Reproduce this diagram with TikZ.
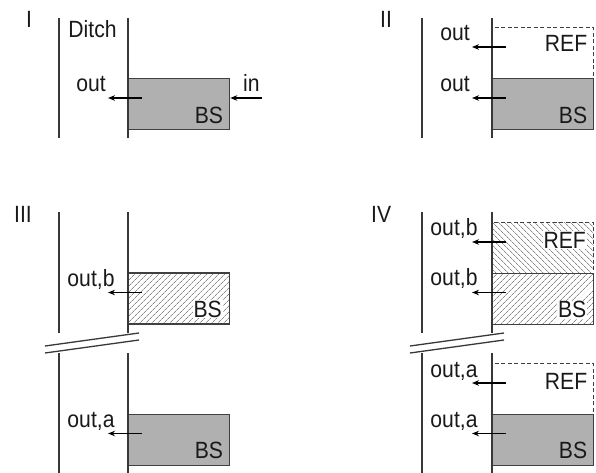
\documentclass[tikz,border=0pt]{standalone}
\usepackage{fontspec}
\setmainfont{Liberation Sans}[FakeStretch=0.9]
\usetikzlibrary{calc,arrows.meta,patterns.meta}
\definecolor{wallc}{HTML}{383838}
\definecolor{boxc}{HTML}{404040}
\definecolor{bsgray}{HTML}{B0B0B0}
\definecolor{hatchc}{HTML}{8A8A8A}
\begin{document}
\begin{tikzpicture}[x=1pt,y=-1pt,
  wall/.style={draw=wallc,line width=1.6pt},
  brk/.style={draw=wallc,line width=1.3pt},
  box/.style={rectangle,draw=boxc,line width=1.3pt,minimum width=101pt,minimum height=51pt,inner sep=0pt,anchor=north west},
  bsbox/.style={box,fill=bsgray},
  hbsbox/.style={box,fill=white,pattern={Lines[angle=45,distance=4pt,line width=0.8pt]},pattern color=hatchc},
  refbox/.style={box,dashed,line width=1.4pt,dash pattern=on 4pt off 2.5pt,fill=white},
  hrefbox/.style={refbox,pattern={Lines[angle=-45,distance=4pt,line width=0.8pt]},pattern color=hatchc},
  txt/.style={inner sep=0pt,font=\fontsize{23.5}{25}\selectfont,text=black!90},
  htxt/.style={txt,fill=white,inner sep=0.8pt},
  num/.style={inner sep=0pt,font=\fontsize{23.5}{25}\selectfont,text=black!90,anchor=base west},
  flow/.style={draw=black,line width=1.5pt,-{Stealth[length=7pt,width=5.5pt]}}
]
\useasboundingbox (0,0) rectangle (596,473);

% ---------- Panel I ----------
\node[num] (nI) at (26,28) {I};
\node[bsbox] (b1) at (128,78) {};
\node[txt,anchor=base east] (b1l) at ($(b1.south east)+(-7,-7)$) {BS};
\draw[wall] (59,18) coordinate (w1a) -- (59,138) coordinate (w1b);
\draw[wall] (128,18) coordinate (w1c) -- (128,138) coordinate (w1d);
\node[txt,anchor=base] (ditch) at (92.5,37.5) {Ditch};
\coordinate (o1s) at ($(b1.north west)+(14,20)$);
\coordinate (o1e) at ($(b1.north west)+(-20,20)$);
\draw[flow] (o1s) -- (o1e);
\node[txt,anchor=base] (o1l) at ($(b1.north west)+(-37,14)$) {out};
\coordinate (i1s) at ($(b1.north east)+(32,20)$);
\draw[flow] (i1s) -- (b1.east |- i1s);
\node[txt,anchor=base] (i1l) at ($(b1.north east)+(21,14)$) {in};

% ---------- Panel II ----------
\node[num] (nII) at (380,28) {II};
\node[refbox] (r2) at (492,27) {};
\node[bsbox] (b2) at (492,78) {};
\node[txt,anchor=base east] (r2l) at ($(r2.north east)+(-7,25)$) {REF};
\node[txt,anchor=base east] (b2l) at ($(b2.south east)+(-7,-7)$) {BS};
\draw[wall] (422,18) -- (422,138);
\draw[wall] (492,18) -- (492,138);
\coordinate (o2s) at ($(r2.north west)+(14,20)$);
\coordinate (o2e) at ($(r2.north west)+(-20,20)$);
\draw[flow] (o2s) -- (o2e);
\node[txt,anchor=base] (o2l) at ($(r2.north west)+(-37,14)$) {out};
\coordinate (o3s) at ($(b2.north west)+(14,20)$);
\coordinate (o3e) at ($(b2.north west)+(-20,20)$);
\draw[flow] (o3s) -- (o3e);
\node[txt,anchor=base] (o3l) at ($(b2.north west)+(-37,14)$) {out};

% ---------- Panel III ----------
\node[num] (nIII) at (14,222) {III};
\node[hbsbox] (b3) at (128,272.5) {};
\node[htxt,anchor=base east] (b3l) at ($(b3.south east)+(-7,-7)$) {BS};
\node[bsbox] (b4) at (128,413.5) {};
\node[txt,anchor=base east] (b4l) at ($(b4.south east)+(-7,-7)$) {BS};
\draw[wall] (59,212) -- (59,333);
\draw[wall] (128,212) -- (128,333);
\draw[wall] (59,353) -- (59,473);
\draw[wall] (128,353) -- (128,473);
\draw[brk] (45,346) -- (139,333);
\draw[brk] (45,353) -- (139,340);
\coordinate (o4s) at ($(b3.north west)+(14,20)$);
\coordinate (o4e) at ($(b3.north west)+(-20,20)$);
\draw[flow] (o4s) -- (o4e);
\node[txt,anchor=base] (o4l) at ($(b3.north west)+(-37,14)$) {out,b};
\coordinate (o5s) at ($(b4.north west)+(14,20)$);
\coordinate (o5e) at ($(b4.north west)+(-20,20)$);
\draw[flow] (o5s) -- (o5e);
\node[txt,anchor=base] (o5l) at ($(b4.north west)+(-37,14)$) {out,a};

% ---------- Panel IV ----------
\node[num] (nIV) at (371,222) {IV};
\node[hrefbox] (r6) at (492,222) {};
\node[hbsbox] (b6) at (492,272.5) {};
\node[htxt,anchor=base east] (r6l) at ($(r6.north east)+(-7,26)$) {REF};
\node[htxt,anchor=base east] (b6l) at ($(b6.south east)+(-7,-7)$) {BS};
\node[refbox] (r7) at (492,363) {};
\node[bsbox] (b7) at (492,413.5) {};
\node[txt,anchor=base east] (r7l) at ($(r7.north east)+(-7,26)$) {REF};
\node[txt,anchor=base east] (b7l) at ($(b7.south east)+(-7,-7)$) {BS};
\draw[wall] (422,212) -- (422,333);
\draw[wall] (492,212) -- (492,333);
\draw[wall] (422,353) -- (422,473);
\draw[wall] (492,353) -- (492,473);
\draw[brk] (410,346) -- (504,333);
\draw[brk] (410,353) -- (504,340);
\coordinate (o6s) at ($(r6.north west)+(14,20)$);
\coordinate (o6e) at ($(r6.north west)+(-20,20)$);
\draw[flow] (o6s) -- (o6e);
\node[txt,anchor=base] (o6l) at ($(r6.north west)+(-38,13)$) {out,b};
\coordinate (o7s) at ($(b6.north west)+(14,20)$);
\coordinate (o7e) at ($(b6.north west)+(-20,20)$);
\draw[flow] (o7s) -- (o7e);
\node[txt,anchor=base] (o7l) at ($(b6.north west)+(-38,13)$) {out,b};
\coordinate (o8s) at ($(r7.north west)+(14,20)$);
\coordinate (o8e) at ($(r7.north west)+(-20,20)$);
\draw[flow] (o8s) -- (o8e);
\node[txt,anchor=base] (o8l) at ($(r7.north west)+(-38,14)$) {out,a};
\coordinate (o9s) at ($(b7.north west)+(14,20)$);
\coordinate (o9e) at ($(b7.north west)+(-20,20)$);
\draw[flow] (o9s) -- (o9e);
\node[txt,anchor=base] (o9l) at ($(b7.north west)+(-38,14)$) {out,a};
\end{tikzpicture}
\end{document}
